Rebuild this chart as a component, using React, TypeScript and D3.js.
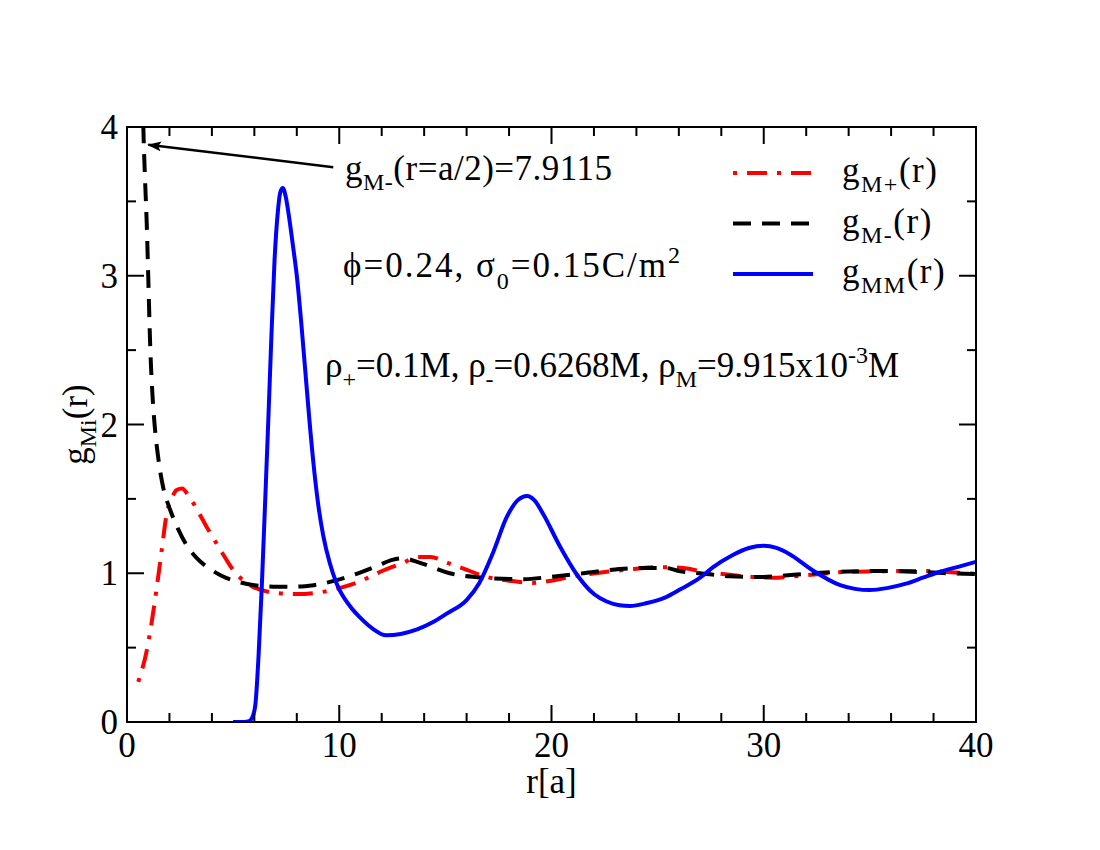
import React from "react";
import * as d3 from "d3";

// g_M+(r), red dash-dot
const rMPlus = [0.53, 0.93, 1.32, 1.64, 1.87, 2.1, 2.34, 2.6, 2.9, 3.13, 3.76, 4.39, 5.01, 5.8, 6.9, 8.0, 9.0, 10.0, 10.7, 12.1, 13.0, 13.7, 14.3, 15.1, 15.7, 16.95, 18.0, 19.1, 20.0, 20.7, 22.6, 24.0, 24.8, 25.5, 26.2, 27.0, 28.4, 29.5, 30.4, 31.5, 32.6, 34.0, 35.2, 36.5, 37.7, 39.0, 40.0];
const gMPlus = [0.27, 0.48, 0.82, 1.16, 1.4, 1.5, 1.56, 1.57, 1.52, 1.47, 1.31, 1.16, 1.02, 0.92, 0.87, 0.86, 0.87, 0.9, 0.93, 1.02, 1.07, 1.11, 1.11, 1.07, 1.04, 0.975, 0.95, 0.935, 0.95, 0.97, 1.01, 1.03, 1.04, 1.04, 1.035, 1.015, 0.99, 0.975, 0.97, 0.98, 0.995, 1.01, 1.013, 1.015, 1.015, 1.005, 0.995];

// g_M-(r), black dashed
const rMMinus = [0.5, 0.6, 0.7, 0.77, 0.85, 0.93, 1.0, 1.1, 1.2, 1.3, 1.45, 1.7, 2.0, 2.4, 2.8, 3.3, 3.9, 4.5, 5.3, 6.0, 6.9, 8.0, 8.8, 9.8, 10.7, 11.8, 12.5, 13.0, 13.8, 15.2, 16.8, 18.7, 19.9, 21.5, 23.0, 24.0, 25.4, 26.0, 27.0, 28.4, 30.0, 31.0, 32.3, 34.0, 35.5, 37.0, 38.0, 39.0, 40.0];
const gMMinus = [7.9115, 6.0, 4.6, 4.0, 3.65, 3.35, 3.0, 2.5, 2.2, 2.0, 1.8, 1.58, 1.44, 1.3, 1.19, 1.1, 1.03, 0.98, 0.94, 0.92, 0.91, 0.91, 0.92, 0.95, 0.99, 1.05, 1.09, 1.1, 1.07, 1.0, 0.97, 0.96, 0.975, 1.0, 1.025, 1.035, 1.035, 1.015, 1.0, 0.98, 0.975, 0.985, 1.0, 1.012, 1.015, 1.01, 1.005, 0.998, 0.995];

// g_MM(r), blue solid
const rMM = [5.0, 5.5, 5.75, 5.9, 6.05, 6.2, 6.35, 6.5, 6.65, 6.8, 6.95, 7.1, 7.22, 7.34, 7.48, 7.65, 7.82, 8.0, 8.2, 8.4, 8.6, 8.82, 9.05, 9.25, 9.55, 9.88, 10.5, 11.0, 11.6, 12.2, 12.9, 13.67, 14.4, 15.08, 16.0, 16.6, 17.25, 17.9, 18.4, 18.85, 19.2, 19.6, 20.4, 21.2, 22.0, 22.6, 23.2, 23.7, 24.5, 25.4, 26.05, 27.0, 27.6, 28.5, 29.3, 30.0, 30.6, 31.2, 32.3, 33.6, 34.3, 35.0, 35.8, 36.7, 37.5, 38.3, 39.2, 40.0];
const gMM = [0.0, 0.0, 0.005, 0.03, 0.12, 0.45, 0.91, 1.45, 2.0, 2.58, 3.1, 3.42, 3.56, 3.59, 3.53, 3.38, 3.2, 3.0, 2.7, 2.36, 2.02, 1.69, 1.42, 1.25, 1.07, 0.93, 0.78, 0.7, 0.625, 0.583, 0.592, 0.622, 0.67, 0.73, 0.82, 0.935, 1.14, 1.38, 1.49, 1.52, 1.49, 1.4, 1.18, 0.99, 0.86, 0.81, 0.785, 0.78, 0.8, 0.84, 0.89, 0.97, 1.04, 1.12, 1.17, 1.185, 1.17, 1.13, 1.02, 0.92, 0.895, 0.887, 0.9, 0.93, 0.97, 1.01, 1.045, 1.077];

const xMajor = [0, 10, 20, 30, 40];
const xMinor = [2, 4, 6, 8, 12, 14, 16, 18, 22, 24, 26, 28, 32, 34, 36, 38];
const yMajor = [0, 1, 2, 3, 4];
const yMinor = [0.5, 1.5, 2.5, 3.5];
const legendLabels = ["M+", "M-", "MM"];

const W = 1100;
const H = 850;
const margin = { top: 127, right: 124, bottom: 128, left: 127 };
const FONT = "'Liberation Serif', 'Times New Roman', Times, serif";
const FS = 35;
const SUB = 24;

const zip = (xs: number[], ys: number[]) => xs.map((x, i) => [x, ys[i]] as [number, number]);

export default function App() {
  const iw = W - margin.left - margin.right;
  const ih = H - margin.top - margin.bottom;
  const x = d3.scaleLinear().domain([0, 40]).range([margin.left, margin.left + iw]);
  const y = d3.scaleLinear().domain([0, 4]).range([margin.top + ih, margin.top]);

  const line = d3
    .line<[number, number]>()
    .x((d) => x(d[0]))
    .y((d) => y(d[1]))
    .curve(d3.curveMonotoneX);

  const series = [
    { name: "MPlus", d: line(zip(rMPlus, gMPlus)), color: "#ff0000", dash: "4,10,20,10" },
    { name: "MMinus", d: line(zip(rMMinus, gMMinus)), color: "#000000", dash: "18,11" },
    { name: "MM", d: line(zip(rMM, gMM)), color: "#0000ff", dash: undefined },
  ];

  const x0 = margin.left;
  const x1 = margin.left + iw;
  const y0 = margin.top + ih;
  const y1 = margin.top;

  return (
    <svg
      width={W}
      height={H}
      style={{ position: "absolute", left: 0, top: 0, background: "#fff" }}
      fontFamily={FONT}
    >
      <defs>
        <clipPath id="plot">
          <rect x={x0} y={y1} width={iw} height={ih} />
        </clipPath>
        <marker id="arrow" viewBox="0 0 14 10" refX="13" refY="5" markerWidth="14" markerHeight="10" markerUnits="userSpaceOnUse" orient="auto">
          <path d="M0,0 L14,5 L0,10 L3,5 Z" fill="#000" />
        </marker>
      </defs>

      {/* curves */}
      <g clipPath="url(#plot)">
        {series.map((s) => (
          <path
            key={s.name}
            d={s.d || ""}
            fill="none"
            stroke={s.color}
            strokeWidth={4}
            strokeDasharray={s.dash}
            strokeLinejoin="round"
          />
        ))}
      </g>

      {/* frame */}
      <rect x={x0} y={y1} width={iw} height={ih} fill="none" stroke="#000" strokeWidth={2} />

      {/* ticks, inward on all sides */}
      <g stroke="#000" strokeWidth={2}>
        {xMajor.map((t) => (
          <g key={"xM" + t}>
            <line x1={x(t)} x2={x(t)} y1={y0} y2={y0 - 17} />
            <line x1={x(t)} x2={x(t)} y1={y1} y2={y1 + 17} />
          </g>
        ))}
        {xMinor.map((t) => (
          <g key={"xm" + t}>
            <line x1={x(t)} x2={x(t)} y1={y0} y2={y0 - 9} />
            <line x1={x(t)} x2={x(t)} y1={y1} y2={y1 + 9} />
          </g>
        ))}
        {yMajor.map((t) => (
          <g key={"yM" + t}>
            <line x1={x0} x2={x0 + 17} y1={y(t)} y2={y(t)} />
            <line x1={x1} x2={x1 - 17} y1={y(t)} y2={y(t)} />
          </g>
        ))}
        {yMinor.map((t) => (
          <g key={"ym" + t}>
            <line x1={x0} x2={x0 + 9} y1={y(t)} y2={y(t)} />
            <line x1={x1} x2={x1 - 9} y1={y(t)} y2={y(t)} />
          </g>
        ))}
      </g>

      {/* tick labels */}
      <g fontSize={FS} fill="#000">
        {xMajor.map((t) => (
          <text key={"xl" + t} x={x(t)} y={y0 + 35} textAnchor="middle">
            {t}
          </text>
        ))}
        {yMajor.map((t) => (
          <text key={"yl" + t} x={x0 - 9} y={y(t) + 12} textAnchor="end">
            {t}
          </text>
        ))}
      </g>

      {/* axis titles */}
      <text x={x(20)} y={793} fontSize={FS} textAnchor="middle">
        r[a]
      </text>
      <text transform={`translate(87,${(y0 + y1) / 2}) rotate(-90)`} fontSize={FS} textAnchor="middle">
        g
        <tspan fontSize={SUB} dy={9}>Mi</tspan>
        <tspan dy={-9}>(r)</tspan>
      </text>

      {/* arrow annotation */}
      <line x1={x(9.72)} y1={y(3.73)} x2={x(1.0)} y2={y(3.88)} stroke="#000" strokeWidth={2.5} markerEnd="url(#arrow)" />
      <text x={345} y={180} fontSize={FS} letterSpacing={0.5}>
        g<tspan fontSize={SUB} dy={10}>M-</tspan>
        <tspan dy={-10}>(r=a/2)=7.9115</tspan>
      </text>

      <text x={343} y={277} fontSize={FS} letterSpacing={2}>
        ϕ=0.24, σ<tspan fontSize={SUB} dy={12}>0</tspan>
        <tspan dy={-12}>=0.15C/m</tspan>
        <tspan fontSize={SUB} dy={-14}>2</tspan>
      </text>

      <text x={325} y={377} fontSize={FS}>
        ρ<tspan fontSize={SUB} dy={10}>+</tspan>
        <tspan dy={-10}>=0.1M, ρ</tspan>
        <tspan fontSize={SUB} dy={10}>-</tspan>
        <tspan dy={-10}>=0.6268M, ρ</tspan>
        <tspan fontSize={SUB} dy={10}>M</tspan>
        <tspan dy={-10}>=9.915x10</tspan>
        <tspan fontSize={SUB} dy={-14}>-3</tspan>
        <tspan dy={14}>M</tspan>
      </text>

      {/* legend */}
      {series.map((s, i) => {
        const ly = 173 + i * 50.5;
        return (
          <g key={"lg" + s.name}>
            <line x1={733} x2={813} y1={ly} y2={ly} stroke={s.color} strokeWidth={4} strokeDasharray={s.dash} />
            <text x={842} y={ly + 9} fontSize={FS} letterSpacing={1.5}>
              g<tspan fontSize={SUB} dy={10}>{legendLabels[i]}</tspan>
              <tspan dy={-10}>(r)</tspan>
            </text>
          </g>
        );
      })}
    </svg>
  );
}
